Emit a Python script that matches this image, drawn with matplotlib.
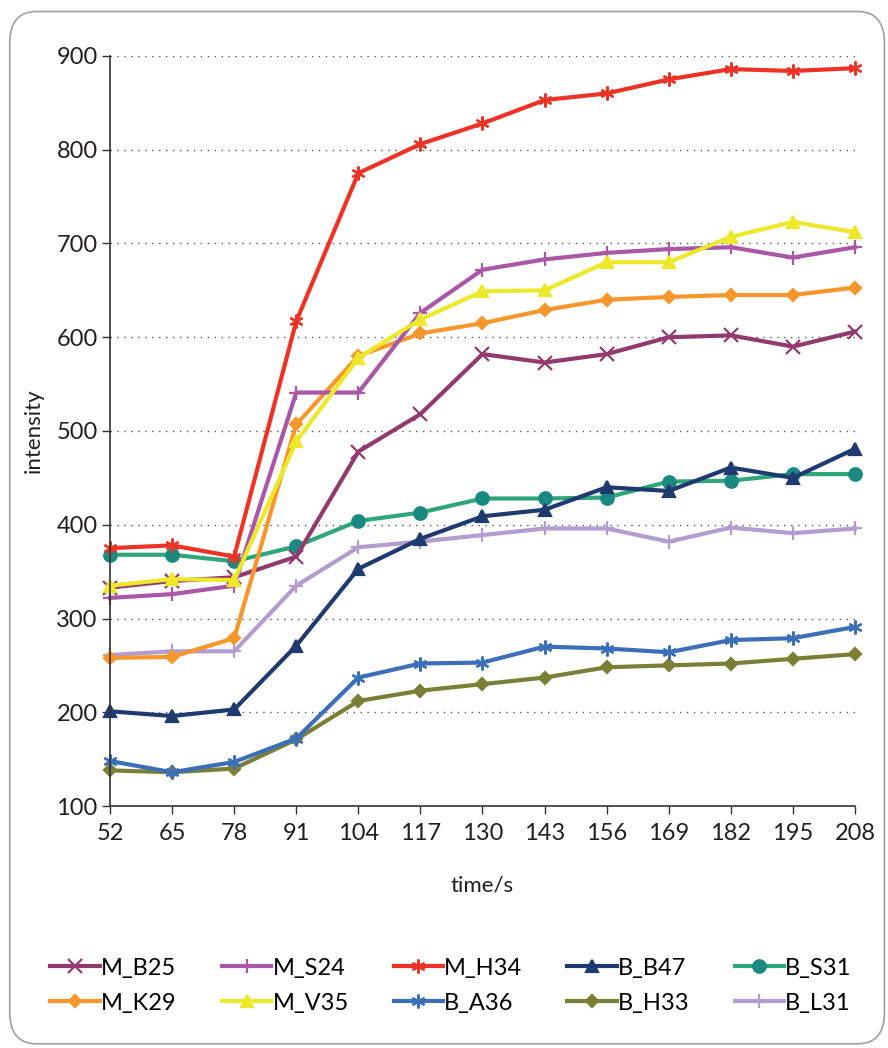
import matplotlib
matplotlib.use("Agg")
import matplotlib.pyplot as plt
from matplotlib.patches import FancyBboxPatch

plt.rcParams['font.family'] = ['Lato', 'DejaVu Sans']

# tempo em segundos
time_s = [52, 65, 78, 91, 104, 117, 130, 143, 156, 169, 182, 195, 208]

M_B25 = [333, 340, 344, 366, 478, 518, 582, 573, 582, 600, 602, 590, 606]
M_S24 = [322, 326, 335, 541, 541, 626, 672, 683, 690, 694, 696, 685, 696]
M_H34 = [375, 378, 366, 617, 775, 806, 828, 853, 860, 875, 886, 884, 887]
B_B47 = [201, 196, 203, 271, 353, 385, 409, 416, 440, 436, 461, 450, 481]
B_S31 = [368, 368, 361, 377, 404, 413, 428, 428, 429, 446, 447, 454, 454]
M_K29 = [258, 259, 279, 507, 580, 604, 615, 629, 640, 643, 645, 645, 653]
M_V35 = [335, 342, 341, 489, 578, 619, 649, 650, 680, 680, 707, 723, 712]
B_A36 = [148, 136, 147, 172, 237, 252, 253, 270, 268, 264, 277, 279, 291]
B_H33 = [138, 136, 140, 171, 212, 223, 230, 237, 248, 250, 252, 257, 262]
B_L31 = [261, 265, 265, 335, 376, 382, 389, 396, 396, 382, 397, 391, 396]

yticks = [100, 200, 300, 400, 500, 600, 700, 800, 900]

# (nome, dados, cor, marcador, cor do marcador)
series = [
    ('B_L31', B_L31, '#b39dd0', '+', '#b39dd0'),
    ('B_H33', B_H33, '#7a7f35', 'D', '#7a7f35'),
    ('B_A36', B_A36, '#3b6fba', (6, 2, 0), '#3b6fba'),
    ('B_S31', B_S31, '#2ea67a', 'o', '#1a8a80'),
    ('B_B47', B_B47, '#1f3a70', '^', '#1f3a70'),
    ('M_B25', M_B25, '#923a6f', 'x', '#923a6f'),
    ('M_K29', M_K29, '#f7962b', 'D', '#f7962b'),
    ('M_S24', M_S24, '#a957a6', '+', '#a957a6'),
    ('M_V35', M_V35, '#ede82a', '^', '#ede82a'),
    ('M_H34', M_H34, '#ee3326', (6, 2, 0), '#ee3326'),
]

fig = plt.figure(figsize=(8.88, 10.48), dpi=100)
fig.patches.append(FancyBboxPatch((0.011, 0.004), 0.985, 0.985,
                                  boxstyle="round,pad=0,rounding_size=0.03",
                                  transform=fig.transFigure, fill=False,
                                  edgecolor='#a0a0a0', linewidth=1.2))
ax = fig.add_axes([0.1239, 0.2309, 0.8389, 0.7157])

handles = {}
for name, data, color, marker, mcolor in series:
    ms = 10
    if marker in ('^', 'o'):
        ms = 9
    if marker == 'D':
        ms = 6.5
    ln, = ax.plot(time_s, data, color=color, linewidth=3, marker=marker,
                  markersize=ms, markerfacecolor=mcolor, markeredgecolor=mcolor,
                  markeredgewidth=1.6, label=name, clip_on=False)
    handles[name] = ln

ax.set_xlim(52, 208)
ax.set_ylim(100, 900)
ax.set_xticks(time_s)
ax.set_yticks(yticks)
ax.tick_params(labelsize=17, length=6, width=1, color='#333333', labelcolor='#231f20')
ax.tick_params(axis='y', pad=3)
ax.tick_params(axis='x', pad=6)
for s in ('top', 'right'):
    ax.spines[s].set_visible(False)
for s in ('left', 'bottom'):
    ax.spines[s].set_color('#333333')
    ax.spines[s].set_linewidth(1.2)
ax.yaxis.grid(True, linestyle=(0, (1, 4)), color='#555555', linewidth=1)
ax.set_axisbelow(True)

ax.set_xlabel('time/s', fontsize=16, color='#231f20', labelpad=23)
ax.set_ylabel('intensity', fontsize=16, color='#231f20', labelpad=9)

order = ['M_B25', 'M_K29', 'M_S24', 'M_V35', 'M_H34', 'B_A36',
         'B_B47', 'B_H33', 'B_S31', 'B_L31']
fig.legend([handles[n] for n in order], order, loc='center',
           bbox_to_anchor=(0.508, 0.0595), ncol=5, frameon=False,
           fontsize=17, handlelength=2.1, handletextpad=0.05,
           columnspacing=1.9, labelspacing=0.6)

fig.savefig('out.png', dpi=100)
